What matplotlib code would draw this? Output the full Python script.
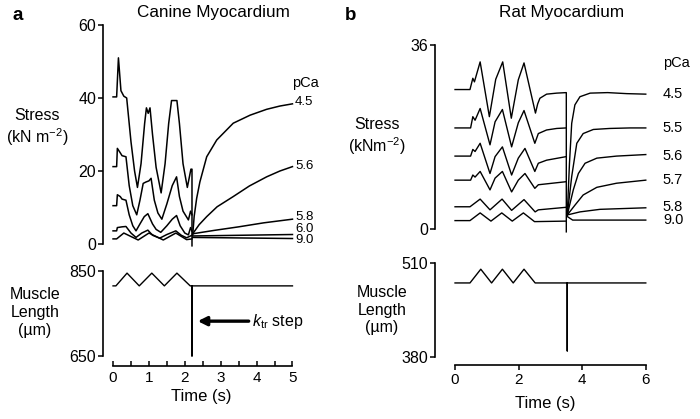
import matplotlib
matplotlib.use("Agg")
import matplotlib.pyplot as plt

plt.rcParams["font.family"] = ["Liberation Sans", "DejaVu Sans"]
plt.rcParams["mathtext.fontset"] = "custom"
plt.rcParams["mathtext.rm"] = "Liberation Sans"
plt.rcParams["mathtext.it"] = "Liberation Sans:italic"

# ---------------------------------------------------------------------------
# Panel a: canine myocardium (stress in kN m^-2, time in s)
# ---------------------------------------------------------------------------
a_pca = ["4.5", "5.6", "5.8", "6.0", "9.0"]

a_t_45 = [0, 0.1, 0.15, 0.22, 0.3, 0.38, 0.5, 0.6, 0.68, 0.78, 0.88, 0.93, 0.98, 1.03,
          1.1, 1.2, 1.34, 1.45, 1.55, 1.63, 1.78, 1.85, 1.95, 2.07, 2.17, 2.2, 2.2]
a_s_45 = [40.3, 40.3, 51, 42, 40.5, 40, 28, 20, 15.5, 22, 33, 37.3, 35.8, 37.3,
          30, 21, 14, 22, 33, 39.3, 39.3, 33, 22, 15.5, 20.5, 20.5, -0.5]
a_t_56 = [0, 0.1, 0.12, 0.2, 0.25, 0.36, 0.45, 0.55, 0.66, 0.75, 0.84, 0.92, 1.0, 1.06,
          1.15, 1.25, 1.36, 1.5, 1.65, 1.77, 1.85, 1.95, 2.1, 2.16, 2.2]
a_s_56 = [21.2, 21.2, 26.2, 25, 24.2, 23.9, 16, 10.5, 8, 12, 16.6, 17, 17.3, 18,
          12, 8.5, 6.8, 11, 16, 18.4, 13, 9, 6.6, 9, 8]
a_t_58 = [0, 0.1, 0.12, 0.2, 0.25, 0.36, 0.45, 0.55, 0.64, 0.75, 0.87, 0.97, 1.1, 1.2,
          1.33, 1.5, 1.65, 1.77, 1.87, 2.0, 2.1, 2.16, 2.2]
a_s_58 = [10.5, 10.5, 13.5, 13, 12.3, 12, 8, 5, 3.6, 5.5, 7.5, 8.3, 5.5, 4,
          3.2, 5, 6.8, 7.8, 5, 3, 2.5, 4.5, 3.5]
a_t_60 = [0, 0.1, 0.12, 0.25, 0.36, 0.5, 0.64, 0.8, 0.97, 1.1, 1.3, 1.5, 1.75, 1.9, 2.05, 2.2]
a_s_60 = [3.6, 3.6, 4.5, 4.7, 4.8, 3.0, 1.8, 3.0, 3.8, 2.4, 1.6, 2.6, 3.6, 2.4, 1.7, 2.4]
a_t_90 = [0, 0.1, 0.3, 0.7, 1.0, 1.4, 1.75, 2.05, 2.2]
a_s_90 = [1.4, 1.4, 3.0, 1.1, 3.0, 1.1, 3.0, 1.2, 1.4]

# recovery after the ktr step
a_rt_45 = [2.22, 2.26, 2.33, 2.42, 2.61, 2.89, 3.35, 3.82, 4.28, 4.65, 5.0]
a_rs_45 = [2.5, 7.5, 12.5, 17.0, 23.9, 28.5, 33.1, 35.3, 36.9, 37.8, 38.4]
a_rt_56 = [2.22, 2.4, 2.61, 2.9, 3.35, 3.8, 4.28, 4.65, 5.0]
a_rs_56 = [2.8, 5.3, 7.5, 10.2, 13.0, 15.9, 18.4, 20.0, 21.2]
a_rt_58 = [2.22, 2.8, 3.5, 4.2, 5.0]
a_rs_58 = [2.8, 3.7, 4.7, 5.8, 6.8]
a_rt_60 = [2.22, 5.0]
a_rs_60 = [2.2, 2.6]
a_rt_90 = [2.22, 5.0]
a_rs_90 = [1.8, 1.5]

# muscle length (um)
a_len_t = [0, 0.08, 0.39, 0.73, 1.08, 1.43, 1.78, 2.15, 2.2, 2.2, 2.2, 5.0]
a_len = [815, 815, 845, 815, 845, 815, 845, 815, 815, 650, 815, 815]

# ---------------------------------------------------------------------------
# Panel b: rat myocardium
# ---------------------------------------------------------------------------
b_pca = ["4.5", "5.5", "5.6", "5.7", "5.8", "9.0"]

b_t_45 = [0, 0.47, 0.56, 0.61, 0.79, 1.08, 1.28, 1.5, 1.77, 1.99, 2.17, 2.53, 2.6,
          2.67, 2.88, 3.2, 3.5, 3.5]
b_s_45 = [27.3, 27.3, 29.5, 28.8, 32.7, 22.0, 29.3, 32.7, 21.7, 29.2, 32.5, 22.7, 24.5,
          25.6, 26.4, 26.6, 26.7, -0.5]
b_t_55 = [0, 0.49, 0.56, 0.63, 0.79, 1.1, 1.26, 1.49, 1.78, 1.99, 2.17, 2.51, 2.62,
          2.88, 3.2, 3.5]
b_s_55 = [19.8, 19.8, 22, 21.3, 23.6, 16.5, 21, 23.4, 16.1, 20.8, 23.2, 16.8, 18.7,
          19.4, 19.7, 19.8]
b_t_56 = [0, 0.49, 0.56, 0.63, 0.79, 1.1, 1.26, 1.49, 1.78, 1.99, 2.2, 2.51, 2.62, 2.88, 3.5]
b_s_56 = [14.3, 14.3, 15.6, 15.2, 16.8, 10.9, 14.2, 16.1, 10.6, 13.9, 15.8, 11.3, 12.9, 13.5, 14.2]
b_t_57 = [0, 0.49, 0.56, 0.63, 0.79, 1.1, 1.26, 1.49, 1.78, 1.99, 2.2, 2.51, 2.62, 3.5]
b_s_57 = [9.6, 9.6, 10.6, 10.2, 11.3, 7.7, 10, 11.3, 7.3, 9.6, 10.9, 8.0, 8.7, 9.3]
b_t_58 = [0, 0.47, 0.79, 1.1, 1.48, 1.78, 2.17, 2.52, 2.62, 3.5]
b_s_58 = [4.4, 4.4, 5.9, 3.8, 5.9, 3.7, 5.8, 3.4, 3.8, 4.3]
b_t_90 = [0, 0.47, 0.79, 1.13, 1.47, 1.8, 2.15, 2.5, 3.5]
b_s_90 = [1.7, 1.7, 3.2, 1.6, 3.2, 1.6, 3.2, 1.5, 1.6]

b_rt_45 = [3.53, 3.6, 3.67, 3.77, 3.93, 4.25, 4.8, 5.4, 6.0]
b_rs_45 = [2.8, 12.9, 20.7, 24.3, 25.9, 26.6, 26.7, 26.5, 26.4]
b_rt_55 = [3.53, 3.67, 3.83, 4.03, 4.35, 4.87, 5.5, 6.0]
b_rs_55 = [2.8, 10.3, 16.8, 18.7, 19.5, 19.7, 19.8, 19.8]
b_rt_56 = [3.53, 3.72, 3.88, 4.09, 4.46, 5.08, 6.0]
b_rs_56 = [2.8, 7.7, 10.9, 12.9, 13.9, 14.3, 14.6]
b_rt_57 = [3.53, 3.77, 4.03, 4.46, 5.08, 6.0]
b_rs_57 = [2.8, 4.7, 6.7, 8.2, 9.0, 9.6]
b_rt_58 = [3.53, 3.93, 4.56, 6.0]
b_rs_58 = [2.8, 3.4, 3.9, 4.2]
b_rt_90 = [3.53, 3.7, 6.0]
b_rs_90 = [2.5, 1.8, 1.8]

b_len_t = [0, 0.47, 0.81, 1.15, 1.49, 1.83, 2.17, 2.52, 3.53, 3.53, 3.53, 6.0]
b_len = [482, 482, 501, 482, 501, 482, 501, 482, 482, 388, 482, 482]

# label heights for the pCa column (kept apart where traces overlap)
a_label_y = [38.9, 21.4, 7.3, 4.2, 1.0]
b_label_y = [26.4, 19.8, 14.3, 9.6, 4.4, 1.8]

# ---------------------------------------------------------------------------
W, H = 700, 419
fig = plt.figure(figsize=(W / 100, H / 100), dpi=100)


def px_axes(x0, y0, x1, y1):
    # box given in image pixels, origin top-left
    return fig.add_axes([x0 / W, 1 - y1 / H, (x1 - x0) / W, (y1 - y0) / H])


def style(ax, ylo, yhi, xaxis=None):
    for side in ["top", "right", "bottom"]:
        ax.spines[side].set_visible(False)
    ax.spines["left"].set_linewidth(1.2)
    ax.spines["left"].set_bounds(ylo, yhi)
    ax.patch.set_alpha(0)
    ax.tick_params(axis="y", direction="out", length=3.5, width=1.1, labelsize=11.5, pad=1.5)
    if xaxis is None:
        ax.set_xticks([])
    else:
        ax.spines["bottom"].set_visible(True)
        ax.spines["bottom"].set_linewidth(1.2)
        ax.spines["bottom"].set_bounds(xaxis[0], xaxis[1])
        ax.spines["bottom"].set_position(("outward", xaxis[2]))


lw = 1.1

# ---- panel a ----
a_top = px_axes(103, 25, 300, 244)
a_top.set_xlim(-0.28, 5.21)
a_top.set_ylim(0, 60)
style(a_top, 0, 60)
a_top.set_yticks([0, 20, 40, 60])

a_pre = [(a_t_45, a_s_45), (a_t_56, a_s_56), (a_t_58, a_s_58), (a_t_60, a_s_60), (a_t_90, a_s_90)]
a_rec = [(a_rt_45, a_rs_45), (a_rt_56, a_rs_56), (a_rt_58, a_rs_58), (a_rt_60, a_rs_60),
         (a_rt_90, a_rs_90)]
for (t, s), (rt, rs) in zip(a_pre, a_rec):
    a_top.plot(t, s, color="black", lw=lw, clip_on=False)
    a_top.plot(rt, rs, color="black", lw=lw, clip_on=False)

for lab, y in zip(a_pca, a_label_y):
    a_top.text(5.07, y, lab, fontsize=9.5, va="center", ha="left")
a_top.text(5.35, 44.2, "pCa", fontsize=10.5, va="center", ha="center")

a_bot = px_axes(103, 271, 300, 356)
a_bot.set_xlim(-0.28, 5.21)
a_bot.set_ylim(650, 850)
style(a_bot, 650, 850, xaxis=(0, 5, 7.2))
a_bot.set_yticks([650, 850])
a_bot.set_xticks([0, 1, 2, 3, 4, 5])
a_bot.set_xticks([0.5, 1.5, 2.5, 3.5, 4.5], minor=True)
a_bot.tick_params(axis="x", which="both", direction="in", length=3.5, width=1.1,
                  labelsize=11, pad=3.5)
a_bot.plot(a_len_t, a_len, color="black", lw=1.0, clip_on=False)
a_bot.set_xlabel("Time (s)", fontsize=12, labelpad=3)
a_bot.annotate("", xy=(2.36, 732), xytext=(3.78, 732),
               arrowprops=dict(arrowstyle="-|>", lw=2.4, color="black",
                               mutation_scale=13, shrinkA=0, shrinkB=0))
a_bot.text(3.87, 732, r"$k_{\mathrm{tr}}$ step", fontsize=11.5, va="center", ha="left")

# ---- panel b ----
b_top = px_axes(435, 45, 655, 229.3)
b_top.set_xlim(-0.63, 6.29)
b_top.set_ylim(0, 36)
style(b_top, 0, 36)
b_top.set_yticks([0, 36])

b_pre = [(b_t_45, b_s_45), (b_t_55, b_s_55), (b_t_56, b_s_56), (b_t_57, b_s_57),
         (b_t_58, b_s_58), (b_t_90, b_s_90)]
b_rec = [(b_rt_45, b_rs_45), (b_rt_55, b_rs_55), (b_rt_56, b_rs_56), (b_rt_57, b_rs_57),
         (b_rt_58, b_rs_58), (b_rt_90, b_rs_90)]
for (t, s), (rt, rs) in zip(b_pre, b_rec):
    b_top.plot(t, s, color="black", lw=1.0, clip_on=False)
    b_top.plot(rt, rs, color="black", lw=1.0, clip_on=False)

for lab, y in zip(b_pca, b_label_y):
    b_top.text(6.54, y, lab, fontsize=10.5, va="center", ha="left")
b_top.text(6.54, 32.5, "pCa", fontsize=10.5, va="center", ha="left")

b_bot = px_axes(435, 262.7, 655, 356.7)
b_bot.set_xlim(-0.63, 6.29)
b_bot.set_ylim(380, 510)
style(b_bot, 380, 510, xaxis=(0, 6, 6.0))
b_bot.set_yticks([380, 510])
b_bot.set_xticks([0, 2, 4, 6])
b_bot.tick_params(axis="x", direction="out", length=3.5, width=1.1, labelsize=11, pad=2)
b_bot.plot(b_len_t, b_len, color="black", lw=1.0, clip_on=False)
b_bot.set_xlabel("Time (s)", fontsize=12, labelpad=7)

# ---- titles and axis labels ----
fig.text(18 / W, 1 - 16 / H, "a", fontsize=13.5, fontweight="bold", ha="center", va="center")
fig.text(351 / W, 1 - 15 / H, "b", fontsize=13.5, fontweight="bold", ha="center", va="center")
fig.text(213 / W, 1 - 13 / H, "Canine Myocardium", fontsize=12.3, ha="center", va="center")
fig.text(562 / W, 1 - 13 / H, "Rat Myocardium", fontsize=12.3, ha="center", va="center")

fig.text(37 / W, 1 - 128 / H, "Stress\n(kN m$^{-2}$)", fontsize=11.5, ha="center",
         va="center", multialignment="center", linespacing=1.2)
fig.text(35 / W, 1 - 312 / H, "Muscle\nLength\n(\u00b5m)", fontsize=11.5, ha="center",
         va="center", multialignment="center", linespacing=1.25)
fig.text(377 / W, 1 - 137 / H, "Stress\n(kNm$^{-2}$)", fontsize=11.5, ha="center",
         va="center", multialignment="center", linespacing=1.2)
fig.text(382 / W, 1 - 310 / H, "Muscle\nLength\n(\u00b5m)", fontsize=11.5, ha="center",
         va="center", multialignment="center", linespacing=1.2)

fig.savefig("out.png", dpi=100)
